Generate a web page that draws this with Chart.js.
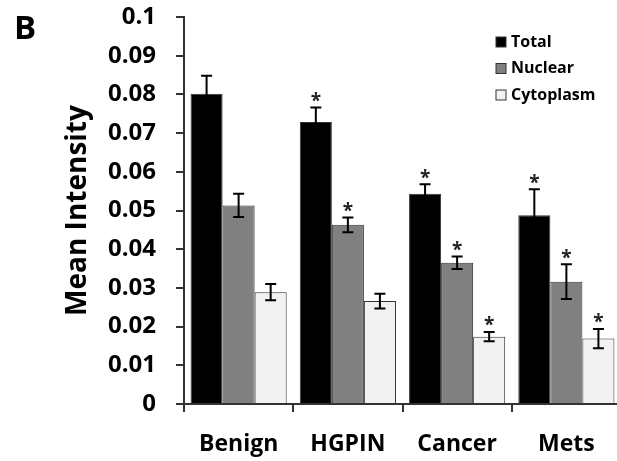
<!DOCTYPE html>
<html>
<head>
<meta charset="utf-8">
<script src="https://cdn.jsdelivr.net/npm/chart.js@4"></script>
<style>
  html, body { margin: 0; padding: 0; background: #fff; overflow: hidden; }
  #wrap { width: 621px; height: 461px; }
</style>
</head>
<body>
<div id="wrap"><canvas id="chart" width="621" height="461"></canvas></div>
<script>
// values
const groups = ["Benign", "HGPIN", "Cancer", "Mets"];
const seriesNames = ["Total", "Nuclear", "Cytoplasm"];
const totalVals = [0.0802, 0.0729, 0.0543, 0.0488];
const nuclearVals = [0.0513, 0.0463, 0.0365, 0.0316];
const cytoVals = [0.0289, 0.0266, 0.0174, 0.0169];
const totalErr = [0.0046, 0.0037, 0.0025, 0.0067];
const nuclearErr = [0.0030, 0.0019, 0.0016, 0.0045];
const cytoErr = [0.0021, 0.0019, 0.0012, 0.0025];
// significance stars (1 = marked)
const totalStar = [0, 1, 1, 1];
const nuclearStar = [0, 1, 1, 1];
const cytoStar = [0, 0, 1, 1];

const fontName = "'Open Sans'";
const axisColor = "#333";

const errs = [totalErr, nuclearErr, cytoErr];
const stars = [totalStar, nuclearStar, cytoStar];

// error bars, stars, legend and panel letter
const extras = {
  id: "extras",
  afterDatasetsDraw(chart) {
    const ctx = chart.ctx;
    const y = chart.scales.y;
    ctx.save();
    chart.data.datasets.forEach((ds, i) => {
      const meta = chart.getDatasetMeta(i);
      meta.data.forEach((bar, j) => {
        const v = ds.data[j];
        const e = errs[i][j];
        const top = y.getPixelForValue(v + e);
        const bot = y.getPixelForValue(v - e);
        ctx.strokeStyle = "#000";
        ctx.lineWidth = 2;
        ctx.beginPath();
        ctx.moveTo(bar.x, top); ctx.lineTo(bar.x, bot);
        ctx.moveTo(bar.x - 5.5, top); ctx.lineTo(bar.x + 5.5, top);
        ctx.moveTo(bar.x - 5.5, bot); ctx.lineTo(bar.x + 5.5, bot);
        ctx.stroke();
        if (stars[i][j]) {
          ctx.fillStyle = "#222";
          ctx.font = "bold 19px " + fontName;
          ctx.textAlign = "center";
          ctx.textBaseline = "middle";
          ctx.fillText("*", bar.x, top - 6);
        }
      });
    });

    // legend
    ctx.font = "bold 16px " + fontName;
    ctx.textAlign = "left";
    ctx.textBaseline = "middle";
    chart.data.datasets.forEach((ds, i) => {
      const cy = 42 + i * 26.5;
      ctx.fillStyle = ds.backgroundColor;
      ctx.fillRect(496, cy - 5, 10, 10);
      ctx.strokeStyle = axisColor;
      ctx.lineWidth = 1;
      ctx.strokeRect(496, cy - 5, 10, 10);
      ctx.fillStyle = "#000";
      ctx.fillText(ds.label, 511, cy);
    });

    // panel letter
    ctx.font = "bold 33px " + fontName;
    ctx.fillText("B", 14, 30);
    ctx.restore();
  }
};

new Chart(document.getElementById("chart"), {
  type: "bar",
  data: {
    labels: groups,
    datasets: [
      { label: seriesNames[0], data: totalVals, backgroundColor: "#000000" },
      { label: seriesNames[1], data: nuclearVals, backgroundColor: "#808080" },
      { label: seriesNames[2], data: cytoVals, backgroundColor: "#f2f2f2" }
    ].map(d => Object.assign(d, { borderColor: "#333", borderWidth: 1, categoryPercentage: 0.88, barPercentage: 1 }))
  },
  options: {
    responsive: false,
    animation: false,
    layout: { autoPadding: false, padding: { top: 17, right: 0, bottom: 0, left: 0 } },
    plugins: { legend: { display: false }, tooltip: { enabled: false } },
    scales: {
      x: {
        grid: { drawOnChartArea: false, drawTicks: true, tickLength: 8, color: axisColor, lineWidth: 2 },
        border: { color: axisColor, width: 2 },
        ticks: { color: "#000", font: { family: fontName, size: 23, weight: "bold" }, padding: 19 },
        afterFit(scale) { scale.height = 57; }
      },
      y: {
        min: 0, max: 0.1,
        grid: { drawOnChartArea: false, drawTicks: true, tickLength: 8, color: axisColor, lineWidth: 2 },
        border: { color: axisColor, width: 2 },
        ticks: {
          stepSize: 0.01,
          color: "#000",
          font: { family: fontName, size: 24, weight: "bold" },
          padding: 20,
          callback: v => String(Math.round(v * 100) / 100)
        },
        title: {
          display: true,
          text: "Mean Intensity",
          color: "#000",
          font: { family: fontName, size: 28, weight: "bold" },
          padding: { top: 61, bottom: 0 }
        },
        afterFit(scale) {
          scale.width = 184;
          scale.paddingTop = 0;
          scale.paddingBottom = 0;
        }
      }
    }
  },
  plugins: [extras]
});
</script>
</body>
</html>
